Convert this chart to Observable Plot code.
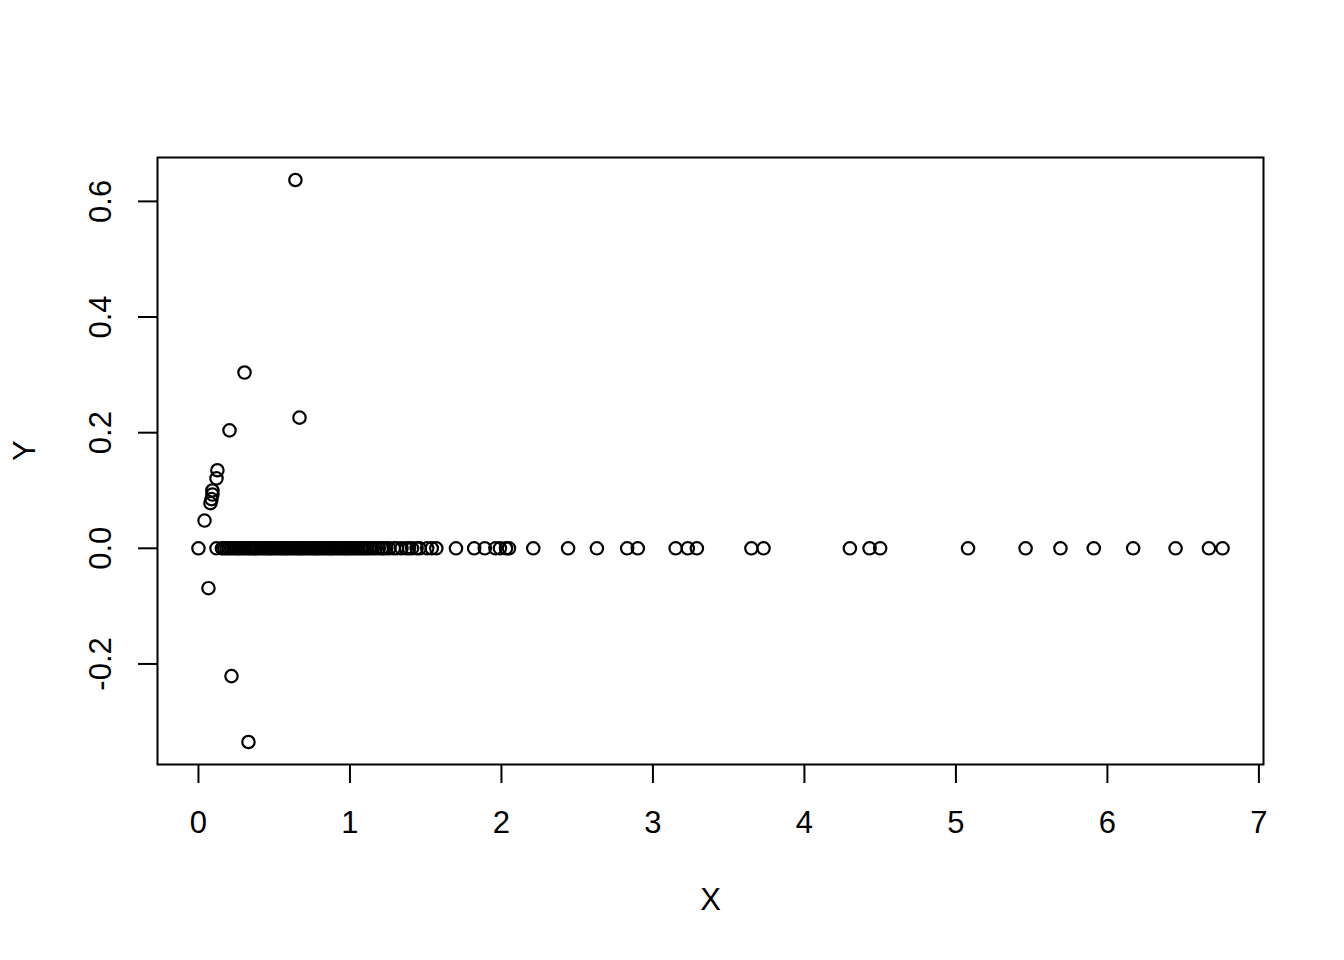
<!DOCTYPE html>
<html>
<head>
<meta charset="utf-8">
<script src="https://cdn.jsdelivr.net/npm/d3@7"></script>
<script src="https://cdn.jsdelivr.net/npm/@observablehq/plot@0.6"></script>
<style>
  html, body { margin: 0; padding: 0; background: #fff; }
  svg { display: block; }
</style>
</head>
<body>
<div id="chart"></div>
<script>
// Points lying on Y = 0
const zeroX = [
  0, 0.119,
  0.155, 0.17, 0.185, 0.2, 0.215, 0.23, 0.245, 0.26, 0.27, 0.285, 0.3, 0.315, 0.33, 0.34,
  0.355, 0.37, 0.38, 0.395, 0.41, 0.425, 0.44, 0.455, 0.47, 0.48, 0.495, 0.51, 0.525,
  0.54, 0.555, 0.57, 0.58, 0.595, 0.61, 0.625, 0.64, 0.655, 0.67, 0.68, 0.695, 0.71,
  0.725, 0.74, 0.755, 0.77, 0.78, 0.795, 0.81, 0.825, 0.84, 0.855, 0.87, 0.88, 0.895,
  0.91, 0.925, 0.94, 0.955, 0.97, 0.98, 0.995, 1.01, 1.025, 1.04, 1.055, 1.07, 1.085,
  1.1, 1.115, 1.13, 1.15, 1.17, 1.19, 1.21, 1.22, 1.24, 1.26, 1.29, 1.31, 1.34, 1.37,
  1.39, 1.41, 1.44, 1.46,
  1.51, 1.54, 1.57, 1.70, 1.82, 1.89, 1.96, 1.99, 2.03, 2.05, 2.21, 2.44, 2.63,
  2.83, 2.90, 3.15, 3.23, 3.29, 3.65, 3.73, 4.30, 4.43, 4.50, 5.08, 5.46, 5.69,
  5.91, 6.17, 6.45, 6.67, 6.76
];
// Points off the zero line
const offX = [0.640, 0.304, 0.667, 0.205, 0.125, 0.119, 0.092, 0.092, 0.086, 0.079, 0.040, 0.066, 0.218, 0.330];
const offY = [0.637, 0.304, 0.226, 0.204, 0.135, 0.121, 0.100, 0.093, 0.085, 0.078, 0.048, -0.069, -0.221, -0.335];

const xTicks = [0, 1, 2, 3, 4, 5, 6, 7];
const yTicks = [-0.2, 0.0, 0.2, 0.4, 0.6];

const points = [
  ...zeroX.map(x => ({x, y: 0})),
  ...offX.map((x, i) => ({x, y: offY[i]}))
];

const font = "Liberation Sans, Arial, sans-serif";
const fs = 31;

const chart = Plot.plot({
  width: 1344,
  height: 960,
  marginLeft: 157,
  marginRight: 81,
  marginTop: 157,
  marginBottom: 196,
  style: {fontFamily: font, background: "#fff", color: "#000"},
  x: {domain: [-0.2704, 7.0304], ticks: xTicks},
  y: {domain: [-0.3739, 0.6759], ticks: yTicks},
  marks: [
    Plot.frame({stroke: "#000", strokeWidth: 2}),
    Plot.axisX({ticks: xTicks, tickSize: 19, tickFormat: () => "", label: null, strokeWidth: 2}),
    Plot.axisY({ticks: yTicks, tickSize: 19, tickFormat: () => "", label: null, strokeWidth: 2}),
    Plot.text(xTicks, {x: d => d, frameAnchor: "bottom", dy: 59, text: d => String(d), fontSize: fs, lineAnchor: "middle", textAnchor: "middle"}),
    Plot.text(yTicks, {y: d => d, frameAnchor: "left", dx: -56, rotate: -90, text: d => d.toFixed(1), fontSize: fs, lineAnchor: "middle", textAnchor: "middle"}),
    Plot.text(["X"], {frameAnchor: "bottom", dy: 136, text: d => d, fontSize: fs, lineAnchor: "middle"}),
    Plot.text(["Y"], {frameAnchor: "left", dx: -132, rotate: -90, text: d => d, fontSize: fs, lineAnchor: "middle"}),
    Plot.dot(points, {x: "x", y: "y", r: 6.2, stroke: "#000", strokeWidth: 2.2, fill: "none"})
  ]
});
document.getElementById("chart").appendChild(chart);
</script>
</body>
</html>
